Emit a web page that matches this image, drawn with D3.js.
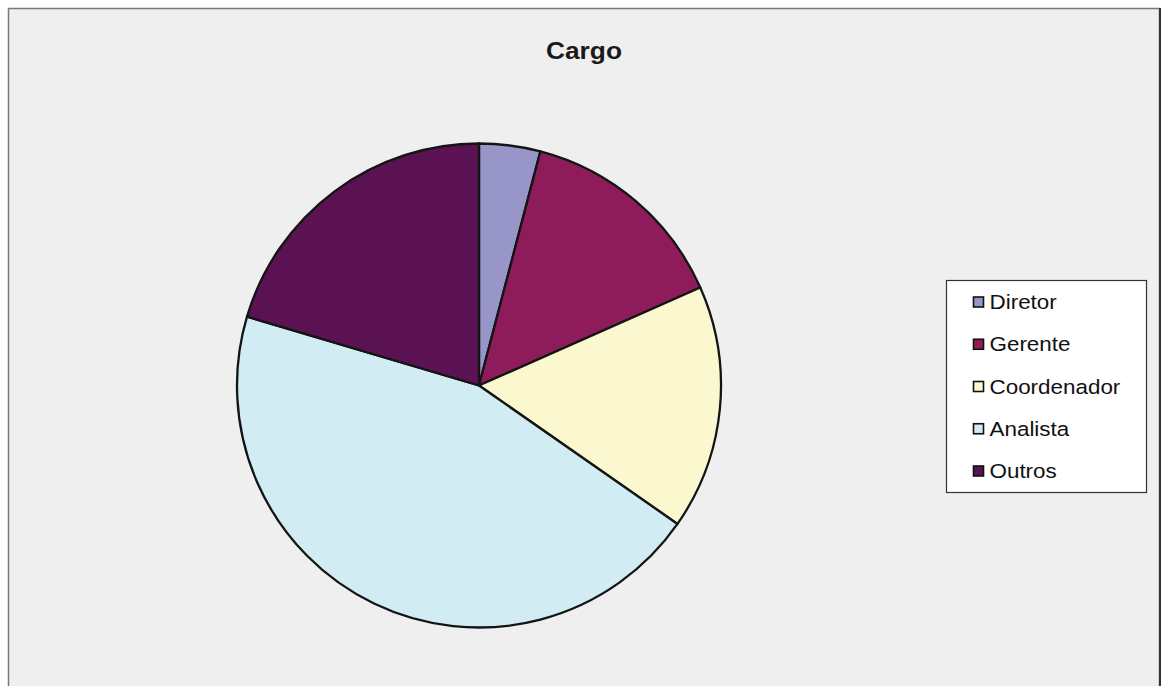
<!DOCTYPE html>
<html>
<head>
<meta charset="utf-8">
<script src="https://cdn.jsdelivr.net/npm/d3@7"></script>
<style>
  html, body { margin: 0; padding: 0; background: #ffffff; }
  svg { display: block; }
  text { font-family: "Liberation Sans", Arial, sans-serif; }
</style>
</head>
<body>
<svg id="chart" width="1166" height="686"></svg>
<script>
// Cargo (job position) distribution
const categories = ["Diretor", "Gerente", "Coordenador", "Analista", "Outros"];
const counts = [2, 7, 8, 22, 10];
const colors = ["#9896c9", "#8f1c5a", "#fbf8cf", "#d1ecf2", "#5a1253"];
const title = "Cargo";

const svg = d3.select("#chart");
const W = 1166, H = 686;

// chart area frame
svg.append("rect")
  .attr("x", 8.5).attr("y", 8.5)
  .attr("width", 1151).attr("height", 690)
  .attr("fill", "#efefef")
  .attr("stroke", "#777777").attr("stroke-width", 1.5);
svg.append("line")
  .attr("x1", 1160).attr("x2", 1160).attr("y1", 8).attr("y2", H)
  .attr("stroke", "#333333").attr("stroke-width", 2);

// title
svg.append("text")
  .attr("transform", "translate(584,59) scale(1.12,1)")
  .attr("text-anchor", "middle")
  .attr("font-size", 23.5)
  .attr("font-weight", "bold")
  .attr("fill", "#1a1a1a")
  .text(title);

// pie
const cx = 479, cy = 385.5, r = 242;
const pie = d3.pie().sort(null).value(d => d.v);
const arc = d3.arc().innerRadius(0).outerRadius(r);
const data = categories.map((c, i) => ({ c, v: counts[i] }));
const color = d3.scaleOrdinal().domain(categories).range(colors);

svg.append("g")
  .attr("transform", `translate(${cx},${cy})`)
  .selectAll("path")
  .data(pie(data))
  .join("path")
  .attr("d", arc)
  .attr("fill", d => color(d.data.c))
  .attr("stroke", "#141414")
  .attr("stroke-width", 2.3)
  .attr("stroke-linejoin", "round");

// legend
const lg = svg.append("g");
lg.append("rect")
  .attr("x", 946.5).attr("y", 280.5)
  .attr("width", 200).attr("height", 212)
  .attr("fill", "#ffffff")
  .attr("stroke", "#333333").attr("stroke-width", 1.2);

const rowY = d3.scalePoint().domain(categories).range([302, 471]);
const items = lg.selectAll("g.item").data(categories).join("g").attr("class", "item");
items.append("rect")
  .attr("x", 973.5).attr("y", c => rowY(c) - 5)
  .attr("width", 10).attr("height", 10)
  .attr("fill", c => color(c))
  .attr("stroke", "#111111").attr("stroke-width", 1.6);
items.append("text")
  .attr("transform", c => `translate(989.5,${rowY(c) + 7}) scale(1.15,1)`)
  .attr("font-size", 19.5)
  .attr("fill", "#111111")
  .text(c => c);
</script>
</body>
</html>
